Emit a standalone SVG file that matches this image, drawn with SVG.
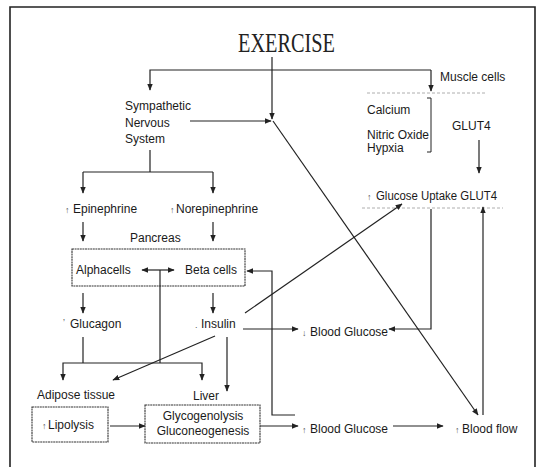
<svg xmlns="http://www.w3.org/2000/svg" width="537" height="467" viewBox="0 0 537 467">
<style>
text{font-family:"Liberation Sans",Arial,sans-serif;font-size:12px;fill:#1a1a1a}
.t{font-family:"Liberation Serif","Times New Roman",serif;font-size:28px;fill:#222}
.s{font-size:9px;fill:#555}
.c{fill:none;stroke:#222;stroke-width:1.2}
.a{marker-end:url(#ah)}
.b{fill:#fff;stroke:#333;stroke-width:1.1;stroke-dasharray:2 0.6}
.d{fill:none;stroke:#999;stroke-width:0.8;stroke-dasharray:3 2}
</style>
<defs>
<marker id="ah" viewBox="0 0 10 10" refX="9" refY="5" markerWidth="7" markerHeight="7" markerUnits="userSpaceOnUse" orient="auto-start-reverse">
<path d="M0,1 L10,5 L0,9 Z" fill="#222"/>
</marker>
</defs>
<rect width="537" height="467" fill="#fff"/>
<path d="M10,470 V7 H535 V470" fill="none" stroke="#222" stroke-width="1.6"/>

<g id="exercise"><text class="t" x="238" y="52" textLength="97" lengthAdjust="spacingAndGlyphs">EXERCISE</text></g>
<g id="sns"><text x="125" y="110">Sympathetic</text><text x="125" y="127">Nervous</text><text x="125" y="143">System</text></g>
<g id="muscle"><text x="440" y="81">Muscle cells</text><line class="d" x1="367" y1="93" x2="487" y2="93"/></g>
<g id="factors"><text x="367" y="114">Calcium</text><text x="367" y="139">Nitric Oxide</text><text x="367" y="152">Hypxia</text>
<path d="M427,98 H431 V152 H427" fill="none" stroke="#222" stroke-width="1"/></g>
<g id="glut4"><text x="452" y="130">GLUT4</text></g>
<g id="uptake"><text class="s" x="367" y="200">↑</text><text x="376" y="200" textLength="121" lengthAdjust="spacingAndGlyphs">Glucose  Uptake GLUT4</text><line class="d" x1="362" y1="208" x2="503" y2="208"/></g>
<g id="epi"><text class="s" x="65" y="213">↑</text><text x="73" y="213">Epinephrine</text></g>
<g id="norepi"><text class="s" x="170" y="213">↑</text><text x="176" y="213">Norepinephrine</text></g>
<g id="pancreas"><text x="130" y="242">Pancreas</text>
<rect class="b" x="72" y="249" width="173" height="37"/>
<text x="76" y="274">Alphacells</text><text x="185" y="274">Beta cells</text></g>
<g id="glucagon"><text class="s" x="63" y="326">ʼ</text><text x="70" y="328">Glucagon</text></g>
<g id="insulin"><text class="s" x="195" y="328">.</text><text x="201" y="328">Insulin</text></g>
<g id="bg-down"><text class="s" x="302" y="336">↓</text><text x="310" y="336">Blood Glucose</text></g>
<g id="adipose"><text x="37" y="399">Adipose tissue</text></g>
<g id="liver"><text x="193" y="400">Liver</text></g>
<g id="lipolysis"><rect class="b" x="32" y="407" width="76" height="35"/><text class="s" x="42" y="429">↑</text><text x="48" y="429">Lipolysis</text></g>
<g id="glyco"><rect class="b" x="145" y="405" width="115" height="38"/><text x="203" y="420" text-anchor="middle">Glycogenolysis</text><text x="203" y="435" text-anchor="middle">Gluconeogenesis</text></g>
<g id="bg-up"><text class="s" x="302" y="433">↑</text><text x="310" y="433">Blood Glucose</text></g>
<g id="bloodflow"><text class="s" x="455" y="433">↑</text><text x="462" y="433">Blood flow</text></g>

<g id="connectors">
<path class="c a" d="M431,70 H150 V90"/>
<path class="c a" d="M431,70 V91"/>
<path class="c a" d="M272,57 V119"/>
<path class="c a" d="M190,121 H271"/>
<path class="c a" d="M273,121 L478,415"/>
<path class="c a" d="M479,140 V173"/>
<path class="c" d="M150,150 V172 M83,172 H213"/>
<path class="c a" d="M83,172 V193"/>
<path class="c a" d="M213,172 V193"/>
<path class="c a" d="M83,222 V241"/>
<path class="c a" d="M213,222 V241"/>
<path class="c a" d="M158,270 H142"/>
<path class="c a" d="M158,270 H174"/>
<path class="c" d="M160,270 V363"/>
<path class="c a" d="M83,293 V313"/>
<path class="c a" d="M213,293 V313"/>
<path class="c" d="M83,337 V363"/>
<path class="c a" d="M83,363 H63 V380"/>
<path class="c a" d="M83,363 H202 V380"/>
<path class="c a" d="M243,329 H298"/>
<path class="c a" d="M227,337 V391"/>
<path class="c a" d="M215,336 L113,380"/>
<path class="c a" d="M245,313 L402,204"/>
<path class="c a" d="M295,415 H272 V271 H247"/>
<path class="c a" d="M431,209 V329 H389"/>
<path class="c a" d="M483,415 V207"/>
<path class="c a" d="M110,426 H145"/>
<path class="c a" d="M260,426 H298"/>
<path class="c a" d="M393,426 H443"/>
</g>
</svg>
